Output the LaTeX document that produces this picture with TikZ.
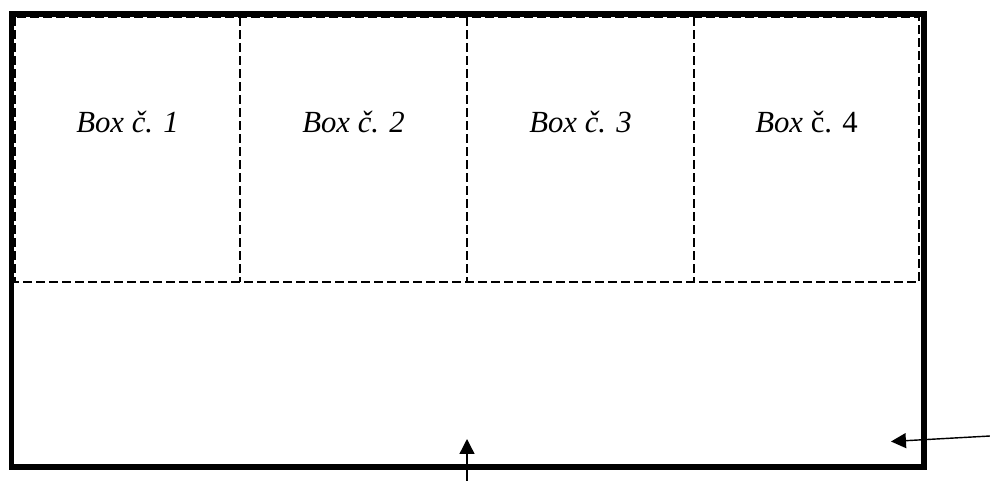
\documentclass[tikz,border=0pt]{standalone}
\usepackage{fontspec}
\setmainfont{Liberation Serif}
\usetikzlibrary{arrows.meta}

\begin{document}
\begin{tikzpicture}[x=0.02cm,y=-0.02cm, >={Triangle[length=8.5pt,width=8.5pt]},
  cell/.style={line width=1.3pt, dash pattern=on 5pt off 2.4pt},
  lbl/.style={anchor=base, inner sep=0pt, font=\fontsize{17.5}{20}\selectfont}]
\useasboundingbox (0,0) rectangle (990,480);
\draw[line width=2.9pt] (11.5,14) rectangle (924,467);
\draw[cell] (15,17) rectangle (919,282);
\foreach \xa in {240, 467, 694}
  \draw[cell] (\xa,17) -- (\xa,282);
\node (t1) at (127.5,132) [lbl] {\textit{Box č. 1}};
\node (t2) at (353.5,132) [lbl] {\textit{Box č. 2}};
\node (t3) at (580.5,132) [lbl] {\textit{Box č. 3}};
\node (t4) at (806.5,132) [lbl] {\textit{Box} č. 4};
\coordinate (ins) at (467,481);
\coordinate (ine) at (467,439);
\coordinate (ous) at (990,436);
\coordinate (oue) at (891,441.5);
\draw[->, line width=0.8pt] (ins) -- (ine);
\draw[->, line width=0.8pt] (ous) -- (oue);
\end{tikzpicture}
\end{document}
